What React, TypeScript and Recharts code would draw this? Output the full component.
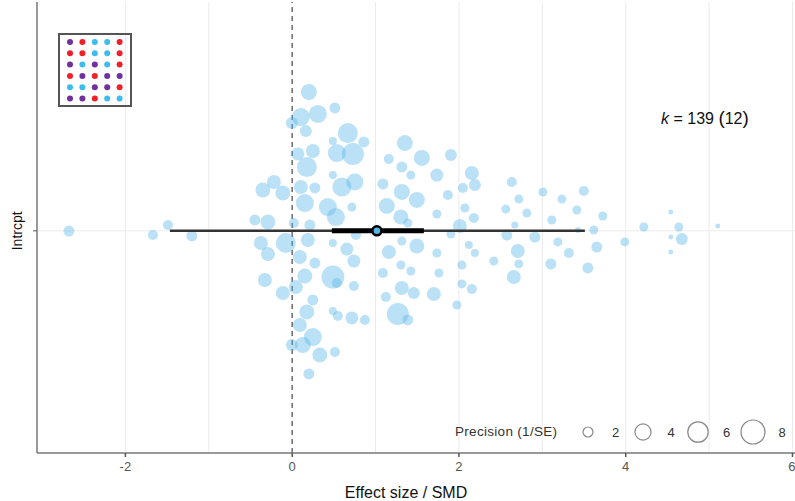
import React from 'react';
import { ScatterChart, Scatter, XAxis, YAxis, ZAxis, ReferenceLine } from 'recharts';

// effect sizes (SMD), vertical jitter inside the single "Intrcpt" row, precision (1/SE)
const effectSize = [
  0.2, 0.104, 0.308, 0.512, -0.004, 0.164, 0.668, 0.488, 0.86, 0.536,
  0.728, 0.068, 0.248, 0.176, 0.488, 0.752, 0.596, -0.219, -0.351, -0.112,
  0.104, 0.272, 0.152, 0.428, 0.716, 0.524, -0.447, -0.291, 0.02, 0.212,
  1.351, 1.159, 1.555, 1.903, 1.315, 1.423, 1.735, 2.155, 1.088, 1.315,
  1.495, 1.867, 2.047, 2.191, 1.135, 1.303, 1.387, 1.735, 2.071, 2.179,
  2.011, 2.634, 3.006, 2.718, 3.234, 3.498, 2.562, 2.814, 3.414, 3.114,
  3.725, 2.67, 3.617, 3.426, 4.217, 4.541, 4.637, 5.104, -2.677, -1.49,
  4.541, 4.673, 4.541, 3.989, 3.653, 3.546, 3.318, 3.186, 2.91, 2.574,
  2.706, 2.718, 2.418, 3.102, 2.658, 2.191, 2.119, 2.035, 2.035, 2.155,
  1.903, 1.315, 1.495, 1.159, 1.735, 1.303, 1.423, 1.088, 1.759, 1.315,
  1.699, 0.764, 0.74, 0.74, 1.459, 1.124, 1.267, 1.387, 0.716, 0.872,
  1.975, -0.375, -0.076, 0.188, 0.488, 0.656, -0.291, 0.092, 0.272, -0.327,
  0.152, 0.488, 0.536, -0.112, 0.044, 0.248, 0.176, 0.488, 0.548, 0.092,
  0.248, 0.128, -0.004, 0.332, 0.512, 0.2, -1.67, -1.203,
];
const jitter = [
  0.625, 0.512, 0.526, 0.553, 0.485, 0.449, 0.44, 0.404, 0.4, 0.35,
  0.346, 0.346, 0.359, 0.287, 0.251, 0.22, 0.197, 0.22, 0.184, 0.17,
  0.197, 0.193, 0.125, 0.107, 0.107, 0.062, 0.049, 0.04, 0.035, 0.026,
  0.395, 0.323, 0.328, 0.341, 0.287, 0.251, 0.251, 0.26, 0.211, 0.175,
  0.139, 0.161, 0.193, 0.206, 0.112, 0.062, 0.035, 0.076, 0.103, 0.058,
  0.022, 0.22, 0.175, 0.143, 0.143, 0.179, 0.098, 0.08, 0.094, 0.049,
  0.067, 0.026, 0.004, 0.004, 0.017, 0.085, 0.017, 0.022, -0.001, 0.026,
  -0.028, -0.037, -0.095, -0.05, -0.073, -0.167, -0.1, -0.05, -0.028, -0.019,
  -0.091, -0.149, -0.136, -0.149, -0.208, -0.1, -0.064, -0.154, -0.239, -0.262,
  -0.014, -0.046, -0.068, -0.095, -0.1, -0.154, -0.181, -0.19, -0.19, -0.257,
  -0.284, -0.019, -0.136, -0.248, -0.28, -0.298, -0.374, -0.401, -0.392, -0.401,
  -0.334, -0.055, -0.055, -0.041, -0.055, -0.082, -0.104, -0.118, -0.145, -0.221,
  -0.203, -0.208, -0.235, -0.28, -0.253, -0.311, -0.365, -0.361, -0.383, -0.424,
  -0.478, -0.514, -0.514, -0.559, -0.545, -0.644, -0.019, -0.023,
];
const precision = [
  3.96, 4.82, 4.82, 2.26, 2.55, 2.55, 5.78, 1.55, 2.26, 4.82,
  6.84, 2.87, 3.21, 5.78, 1.55, 4.38, 5.29, 3.21, 3.57, 3.57,
  3.21, 2.26, 4.82, 4.82, 1.76, 4.82, 2.26, 3.57, 2.0, 2.26,
  3.96, 2.0, 3.96, 2.55, 2.26, 1.76, 2.87, 3.21, 2.26, 3.96,
  3.96, 2.0, 2.0, 2.55, 3.96, 3.57, 1.76, 1.76, 1.76, 2.0,
  3.21, 2.0, 1.76, 1.76, 1.76, 2.0, 1.76, 1.76, 1.76, 1.76,
  1.76, 1.36, 1.76, 1.19, 1.76, 1.05, 1.76, 1.05, 2.26, 2.0,
  1.05, 2.55, 1.05, 1.76, 2.26, 2.26, 2.0, 1.76, 2.26, 2.26,
  3.21, 1.76, 1.76, 2.26, 3.21, 1.55, 1.55, 1.76, 1.76, 2.0,
  1.76, 1.76, 3.57, 3.21, 1.76, 1.76, 1.76, 2.0, 1.76, 3.21,
  3.21, 2.0, 2.87, 2.0, 2.55, 2.0, 6.84, 2.26, 2.87, 2.0,
  1.76, 3.21, 5.78, 3.21, 1.55, 2.87, 3.21, 3.21, 2.26, 3.21,
  3.57, 7.41, 2.0, 3.21, 3.21, 2.26, 3.57, 1.55, 2.0, 3.21,
  4.82, 3.96, 2.55, 3.57, 2.0, 2.26, 2.0, 2.26,
];

const meanEffect = 1.016;
const confInterval = [0.476, 1.579];
const predInterval = [-1.466, 3.51];
const xTicks = [-2, 0, 2, 4, 6];
const gridX = [-2, -1, 1, 2, 3, 4, 5, 6];
const legendPrecision = [2, 4, 6, 8];
const kLabel = { k: 139, groups: 12 };

// little colour matrix in the top-left corner
const insetColors = [
  ['p', 'r', 'b', 'b', 'r'],
  ['r', 'r', 'b', 'b', 'r'],
  ['p', 'b', 'p', 'b', 'r'],
  ['r', 'p', 'r', 'p', 'p'],
  ['b', 'b', 'p', 'p', 'r'],
  ['p', 'p', 'r', 'b', 'b'],
];
const dotColor: Record<string, string> = { p: '#7030a0', r: '#f0202a', b: '#3dbcef' };

const points = effectSize.map((x, i) => ({ x, y: jitter[i], p: precision[i] }));
const ciData = confInterval.map((x) => ({ x, y: 0 }));
const piData = predInterval.map((x) => ({ x, y: 0 }));
const meanData = [{ x: meanEffect, y: 0 }];

// bubble area grows linearly with precision
const area = (p: number) => 62.3 * p - 46;
const minP = Math.min(...precision);
const maxP = Math.max(...precision);

const FONT = '"Liberation Sans", Arial, sans-serif';
const BLUE = '#56B4E9';

const YTick = (props: any) => (
  <g>
    <line x1={33} x2={37} y1={props.y} y2={props.y} stroke="#555" strokeWidth={1} />
    <text x={22} y={props.y} transform={`rotate(-90 22 ${props.y})`} textAnchor="middle"
      fontSize={14} fill="#111" fontFamily={FONT}>Intrcpt</text>
  </g>
);

const Nothing = () => <g />;
const MeanDot = (props: any) => (
  <circle cx={props.cx} cy={props.cy} r={4.5} fill={BLUE} stroke="#000" strokeWidth={2.5} />
);

const Overlay = () => (
  <svg width={795} height={501} style={{ position: 'absolute', left: 0, top: 0, pointerEvents: 'none' }}>
    <rect x={59} y={34} width={72} height={72} fill="none" stroke="#555" strokeWidth={2} />
    {insetColors.map((row, r) =>
      row.map((c, j) => (
        <circle key={`${r}-${j}`} cx={70 + j * 12.4} cy={42 + r * 11.3} r={3} fill={dotColor[c]} />
      ))
    )}
    <text x={661} y={124} fontSize={16} fill="#111" fontFamily={FONT}>
      <tspan fontStyle="italic">k</tspan>
      <tspan> = {kLabel.k} </tspan>
      <tspan fontSize={19}>(</tspan>
      <tspan>{kLabel.groups}</tspan>
      <tspan fontSize={19}>)</tspan>
    </text>
    <text x={455} y={436} fontSize={13.5} fill="#333" fontFamily={FONT} letterSpacing={0.3}>Precision (1/SE)</text>
    {legendPrecision.map((p, i) => (
      <g key={p}>
        <circle cx={588 + i * 55} cy={432} r={Math.sqrt(area(p) / Math.PI)} fill="none" stroke="#888" strokeWidth={1.2} />
        <text x={612 + i * 55.5} y={436.5} fontSize={13} fill="#333" fontFamily={FONT}>{p}</text>
      </g>
    ))}
  </svg>
);

export default function App() {
  return (
    <div style={{ position: 'absolute', left: 0, top: 0, width: 795, height: 501, background: '#fff', fontFamily: FONT }}>
      <ScatterChart width={795} height={501} margin={{ top: 2, right: 0, bottom: 0, left: 0 }}>
        <XAxis type="number" dataKey="x" domain={[-3.06, 6.03]} ticks={xTicks} allowDataOverflow
          stroke="#777" strokeWidth={1.5} tickSize={4} tickMargin={5} tickLine={{ stroke: '#555' }}
          tick={{ fontSize: 13, fill: '#555', fontFamily: FONT }} height={48}
          label={{ value: 'Effect size / SMD', position: 'insideBottom', offset: 3, dx: -10, fontSize: 16, fill: '#111', fontFamily: FONT }} />
        <YAxis type="number" dataKey="y" domain={[-1, 1.03]} ticks={[0]} allowDataOverflow width={37}
          stroke="#777" strokeWidth={1.5} tickLine={false} tick={<YTick />} />
        <ZAxis type="number" dataKey="p" domain={[minP, maxP]} range={[area(minP), area(maxP)]} />
        {gridX.map((v) => (
          <ReferenceLine key={v} x={v} stroke="#ebebeb" strokeWidth={1} />
        ))}
        <ReferenceLine y={0} stroke="#ebebeb" strokeWidth={1} />
        <ReferenceLine x={0} stroke="#555" strokeWidth={1.3} strokeDasharray="5 4" />
        <Scatter data={points} fill={BLUE} fillOpacity={0.4} isAnimationActive={false} />
        <Scatter data={piData} line={{ stroke: '#333', strokeWidth: 2.5 }} shape={<Nothing />} isAnimationActive={false} />
        <Scatter data={ciData} line={{ stroke: '#000', strokeWidth: 5 }} shape={<Nothing />} isAnimationActive={false} />
        <Scatter data={meanData} shape={<MeanDot />} isAnimationActive={false} />
      </ScatterChart>
      <Overlay />
    </div>
  );
}
